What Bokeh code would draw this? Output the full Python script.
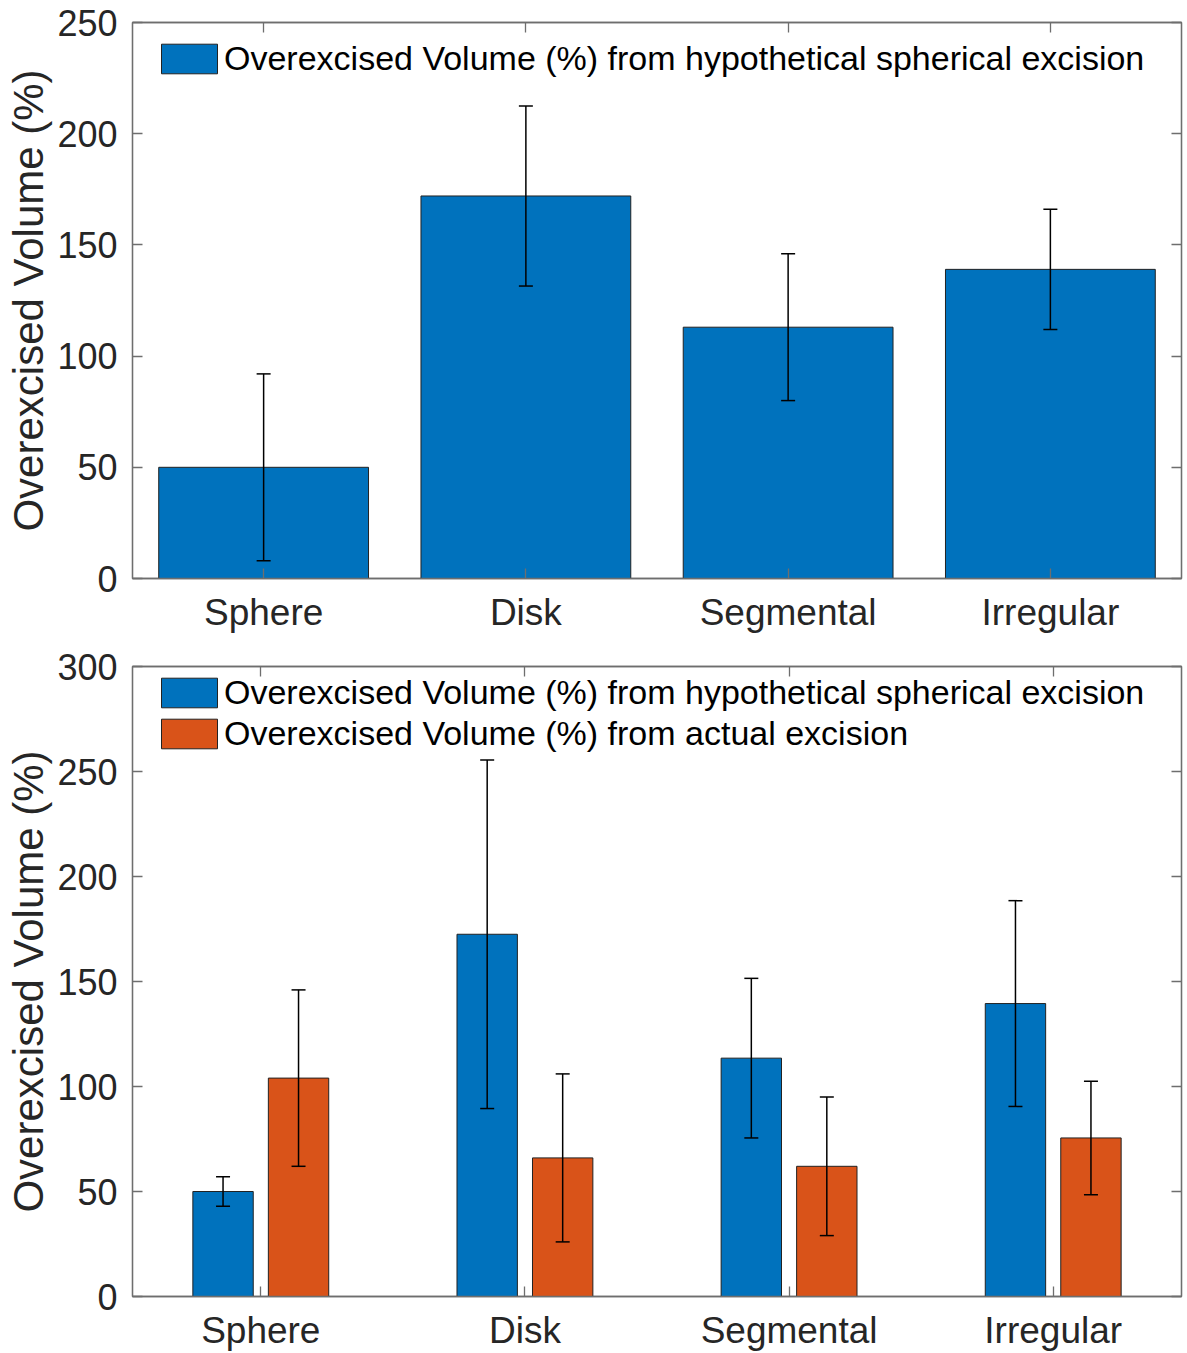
from bokeh.plotting import figure
from bokeh.layouts import column
from bokeh.models import (ColumnDataSource, Whisker, TeeHead, LinearAxis,
                          CategoricalAxis, FixedTicker, Range1d, FactorRange,
                          CustomLabelingPolicy)
from bokeh.transform import dodge
from bokeh.embed import file_html
from bokeh.resources import INLINE

# ---------------- data ----------------
categories = ["Sphere", "Disk", "Segmental", "Irregular"]

# top panel: hypothetical spherical excision
top_mean = [50, 172, 113, 139]
top_err = [42, 40.5, 33, 27]

# bottom panel
hyp_mean = [50, 172.5, 113.5, 139.5]
hyp_err = [7, 83, 38, 49]
act_mean = [104, 66, 62, 75.5]
act_err = [42, 40, 33, 27]

top_yticks = [0, 50, 100, 150, 200, 250]
bottom_yticks = [0, 50, 100, 150, 200, 250, 300]

legend_hyp = "Overexcised Volume (%) from hypothetical spherical excision"
legend_act = "Overexcised Volume (%) from actual excision"
y_label = "Overexcised Volume (%)"

# ---------------- style ----------------
BLUE = "#0072BD"
ORANGE = "#D95319"
EDGE = "#222222"
AX = "#6e6e6e"
TXT = "#262626"
FONT = "Liberation Sans"
YTICK_FS = "36px"
XTICK_FS = "37px"
LABEL_FS = "42px"
LEG_FS = "34px"

GROUP_OFF = 0.1429
GROUP_W = 0.2286

NO_LABELS = "const arr = [...indices]; for (const i of arr) { indices.unset(i) } return indices"


def make_src(mean, err):
    return ColumnDataSource(dict(
        cats=categories,
        mean=mean,
        upper=[m + e for m, e in zip(mean, err)],
        lower=[m - e for m, e in zip(mean, err)],
    ))


def style(p, yticks):
    p.xgrid.visible = False
    p.ygrid.visible = False
    p.outline_line_color = AX
    p.outline_line_width = 1.3
    p.background_fill_color = "white"
    p.border_fill_color = "white"
    p.yaxis.ticker = FixedTicker(ticks=yticks)
    for ax in p.xaxis + p.yaxis:
        ax.axis_line_color = AX
        ax.axis_line_width = 1.3
        ax.major_tick_line_color = AX
        ax.major_tick_line_width = 1.3
        ax.major_tick_in = 10
        ax.major_tick_out = 0
        ax.minor_tick_line_color = None
        ax.major_label_text_font = FONT
        ax.major_label_text_color = TXT
    p.yaxis.major_label_text_font_size = YTICK_FS
    p.yaxis.major_label_standoff = 15
    p.xaxis.major_label_text_font_size = XTICK_FS
    p.xaxis.major_label_standoff = 13
    p.yaxis.axis_label = y_label
    p.yaxis.axis_label_text_font = FONT
    p.yaxis.axis_label_text_font_size = LABEL_FS
    p.yaxis.axis_label_text_font_style = "normal"
    p.yaxis.axis_label_text_color = TXT
    p.yaxis.axis_label_standoff = 2

    right = LinearAxis(ticker=FixedTicker(ticks=yticks))
    top = CategoricalAxis()
    for ax in (right, top):
        ax.axis_line_color = AX
        ax.axis_line_width = 1.3
        ax.major_tick_line_color = AX
        ax.major_tick_line_width = 1.3
        ax.major_tick_in = 10
        ax.major_tick_out = 0
        ax.minor_tick_line_color = None
        ax.major_label_text_font_size = "1px"
        ax.major_label_standoff = 0
        ax.major_label_policy = CustomLabelingPolicy(code=NO_LABELS)
    p.add_layout(right, "right")
    p.add_layout(top, "above")


def style_legend(p, loc):
    lg = p.legend[0]
    lg.location = loc
    lg.border_line_color = None
    lg.background_fill_alpha = 0
    lg.label_text_font = FONT
    lg.label_text_font_size = LEG_FS
    lg.label_text_color = "#000000"
    lg.glyph_width = 70
    lg.glyph_height = 37
    lg.label_standoff = 0
    lg.label_height = 41
    lg.spacing = 0
    lg.margin = 0
    lg.padding = 0


def add_err(p, src, base):
    w = Whisker(base=base, upper="upper", lower="lower", source=src,
                level="overlay", line_color="black", line_width=1.5,
                upper_head=TeeHead(size=14, line_color="black", line_width=1.5),
                lower_head=TeeHead(size=14, line_color="black", line_width=1.5))
    p.add_layout(w)


# ---------------- top panel ----------------
p1 = figure(x_range=FactorRange(*categories), y_range=Range1d(0, 250),
            width=1186, height=640, output_backend="svg", toolbar_location=None,
            min_border_left=132, min_border_right=3, min_border_top=22,
            min_border_bottom=62)
src_top = make_src(top_mean, top_err)
p1.vbar(x="cats", top="mean", width=0.8, source=src_top,
        fill_color=BLUE, line_color=EDGE, line_width=1, legend_label=legend_hyp)
add_err(p1, src_top, "cats")
style(p1, top_yticks)
style_legend(p1, (22, 499))

# ---------------- bottom panel ----------------
p2 = figure(x_range=FactorRange(*categories, range_padding=-0.0143,
                                range_padding_units="absolute"),
            y_range=Range1d(0, 300),
            width=1186, height=713, output_backend="svg", toolbar_location=None,
            min_border_left=132, min_border_right=3, min_border_top=26,
            min_border_bottom=56)
src_hyp = make_src(hyp_mean, hyp_err)
src_act = make_src(act_mean, act_err)
p2.vbar(x=dodge("cats", -GROUP_OFF, range=p2.x_range), top="mean", width=GROUP_W,
        source=src_hyp, fill_color=BLUE, line_color=EDGE, line_width=1,
        legend_label=legend_hyp)
p2.vbar(x=dodge("cats", GROUP_OFF, range=p2.x_range), top="mean", width=GROUP_W,
        source=src_act, fill_color=ORANGE, line_color=EDGE, line_width=1,
        legend_label=legend_act)
add_err(p2, src_hyp, dodge("cats", -GROUP_OFF, range=p2.x_range))
add_err(p2, src_act, dodge("cats", GROUP_OFF, range=p2.x_range))
style(p2, bottom_yticks)
style_legend(p2, (22, 542))

layout = column(p1, p2)
open("out.html", "w").write(file_html(layout, INLINE))
